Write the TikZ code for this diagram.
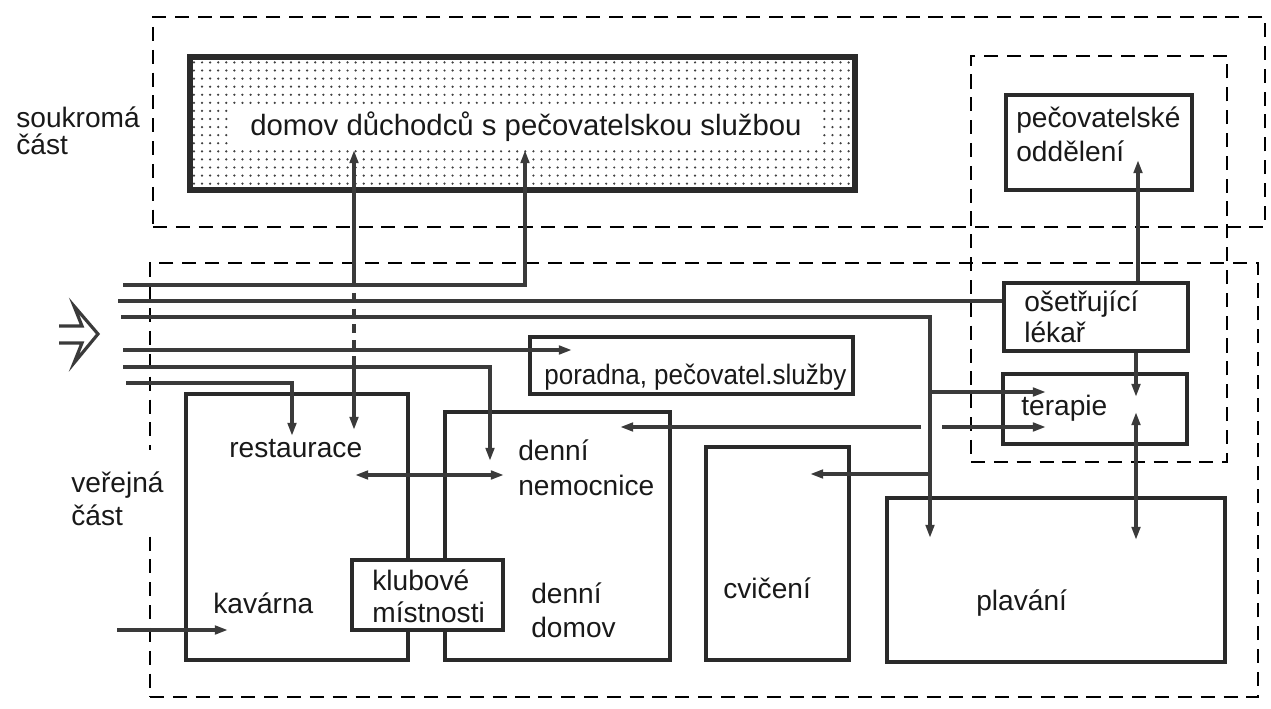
\documentclass[tikz,border=0pt]{standalone}
\usepackage{fontspec}
\setmainfont{Liberation Sans}
\usetikzlibrary{arrows.meta,patterns.meta,fit}
\definecolor{ink}{HTML}{2A2A2A}
\definecolor{lineink}{HTML}{3A3A3A}
\tikzset{
  box/.style={draw=ink, line width=2.4pt, inner sep=0pt},
  region/.style={draw=black, line width=1.1pt, dash pattern=on 8pt off 5pt, inner sep=0pt},
  tipR/.tip={Triangle[length=7.5pt,width=4.8pt]},
  conn/.style={draw=lineink, line width=2.1pt, -tipR},
  biconn/.style={draw=lineink, line width=2.1pt, tipR-tipR},
  plainconn/.style={draw=lineink, line width=2.1pt},
  lbl/.style={anchor=base west, inner sep=0pt, font=\fontsize{16}{19}\selectfont, text=black!90},
}
\begin{document}
\begin{tikzpicture}[x=0.02cm,y=-0.02cm]
\useasboundingbox (0,0) rectangle (1271,709);

% regions
\node[region, fit={(153,17)(1265,227)}] (priv) {};
\node[region, fit={(150,263)(1258,697)}] (pub) {};
\node[region, fit={(971,56)(1227,462)}] (care) {};
\fill[white] (144,450) rectangle (157,533);

% shaded box
\node[box, line width=2.9pt, pattern={Dots[radius=0.7pt,distance=4.6pt]}, pattern color=black!75, fit={(190,57)(855,190)}] (home) {};
\node[fill=white, inner xsep=10pt, inner ysep=4pt, anchor=base, font=\fontsize{16.7}{19}\selectfont, text=black!90] (homet) at (526,136) {domov důchodců s pečovatelskou službou};

% boxes
\node[box, fit={(1006,95)(1192,190)}] (pecov) {};
\node[box, fit={(1004,283)(1188,351)}] (osetr) {};
\node[box, fit={(1003,374)(1187,444)}] (terap) {};
\node[box, fit={(530,337)(853,394)}] (porad) {};
\node[box, fit={(186,394)(408,660)}] (rest) {};
\node[box, fit={(445,412)(670,660)}] (denni) {};
\node[box, fill=white, fit={(352,560)(503,630)}] (klub) {};
\node[box, fit={(706,447)(849,660)}] (cvic) {};
\node[box, fit={(887,498)(1225,662)}] (plav) {};

% labels
\node[lbl] (l1) at (16,128) {soukromá};
\node[lbl] (l2) at (16,155) {část};
\node[lbl] (l3) at (71,492) {veřejná};
\node[lbl] (l4) at (71,525) {část};
\node[lbl] (l5) at (1016,128) {pečovatelské};
\node[lbl] (l6) at (1016,162) {oddělení};
\node[lbl] (l7) at (1024,312) {ošetřující};
\node[lbl] (l8) at (1024,343) {lékař};
\node[lbl] (l9) at (1021,416) {terapie};
\node[lbl] (l10) at (544,385) {\scalebox{0.925}[1]{poradna, pečovatel.služby}};
\node[lbl] (l11) at (229,458) {restaurace};
\node[lbl] (l12) at (518,460) {denní};
\node[lbl] (l13) at (518,495) {nemocnice};
\node[lbl] (l14) at (372,590) {klubové};
\node[lbl] (l15) at (372,622) {místnosti};
\node[lbl] (l16) at (213,613) {kavárna};
\node[lbl] (l17) at (531,603) {denní};
\node[lbl] (l18) at (531,637) {domov};
\node[lbl] (l19) at (723,598) {cvičení};
\node[lbl] (l20) at (976,610) {plavání};

% entrance arrow
\draw[draw=lineink, line width=1.8pt, line join=miter] (59,326) -- (82,326) -- (74,306) -- (98,334) -- (74,363) -- (82,343) -- (59,343);

% coordinates
\coordinate (in1) at (123,285);
\coordinate (in2) at (118,301);
\coordinate (in3) at (121,317);
\coordinate (in4) at (123,350);
\coordinate (in5) at (123,367);
\coordinate (in6) at (126,383);
\coordinate (tH1) at (525,150);
\coordinate (tH2) at (354,150);
\coordinate (tPl) at (930,538);
\coordinate (j1) at (930,392);
\coordinate (tT1) at (1046,392);
\coordinate (j2) at (930,474);
\coordinate (tC) at (810,474);
\coordinate (g1) at (921,427);
\coordinate (tD) at (620,427);
\coordinate (g2) at (942,427);
\coordinate (tT2) at (1046,427);
\coordinate (tP) at (572,350);
\coordinate (tN) at (490,461);
\coordinate (tR1) at (292,436);
\coordinate (v1) at (354,277);
\coordinate (v2) at (354,362);
\coordinate (tR2) at (354,430);
\coordinate (a1) at (355,475);
\coordinate (a2) at (504,475);
\coordinate (k0) at (117,630);
\coordinate (k1) at (228,630);
\coordinate (tPe) at (1138,160);
\coordinate (tT3) at (1136,397);
\coordinate (b1) at (1136,412);
\coordinate (b2) at (1136,540);

% connectors
\draw[conn] (in1) -| (tH1);
\draw[plainconn] (in2) -- (osetr.west |- in2);
\draw[conn] (in3) -| (tPl);
\draw[conn] (j1) -- (tT1);
\draw[conn] (j2) -- (tC);
\draw[conn] (g1) -- (tD);
\draw[conn] (g2) -- (tT2);
\draw[conn] (in4) -- (tP);
\draw[conn] (in5) -| (tN);
\draw[conn] (in6) -| (tR1);
\draw[conn] (v1) -- (tH2);
\draw[plainconn, dash pattern=on 5pt off 4pt] (v1) -- (v2);
\draw[conn] (v2) -- (tR2);
\draw[biconn] (a1) -- (a2);
\draw[conn] (k0) -- (k1);
\draw[conn] (tPe |- osetr.north) -- (tPe);
\draw[conn] (tT3 |- osetr.south) -- (tT3);
\draw[biconn] (b1) -- (b2);
\end{tikzpicture}
\end{document}
